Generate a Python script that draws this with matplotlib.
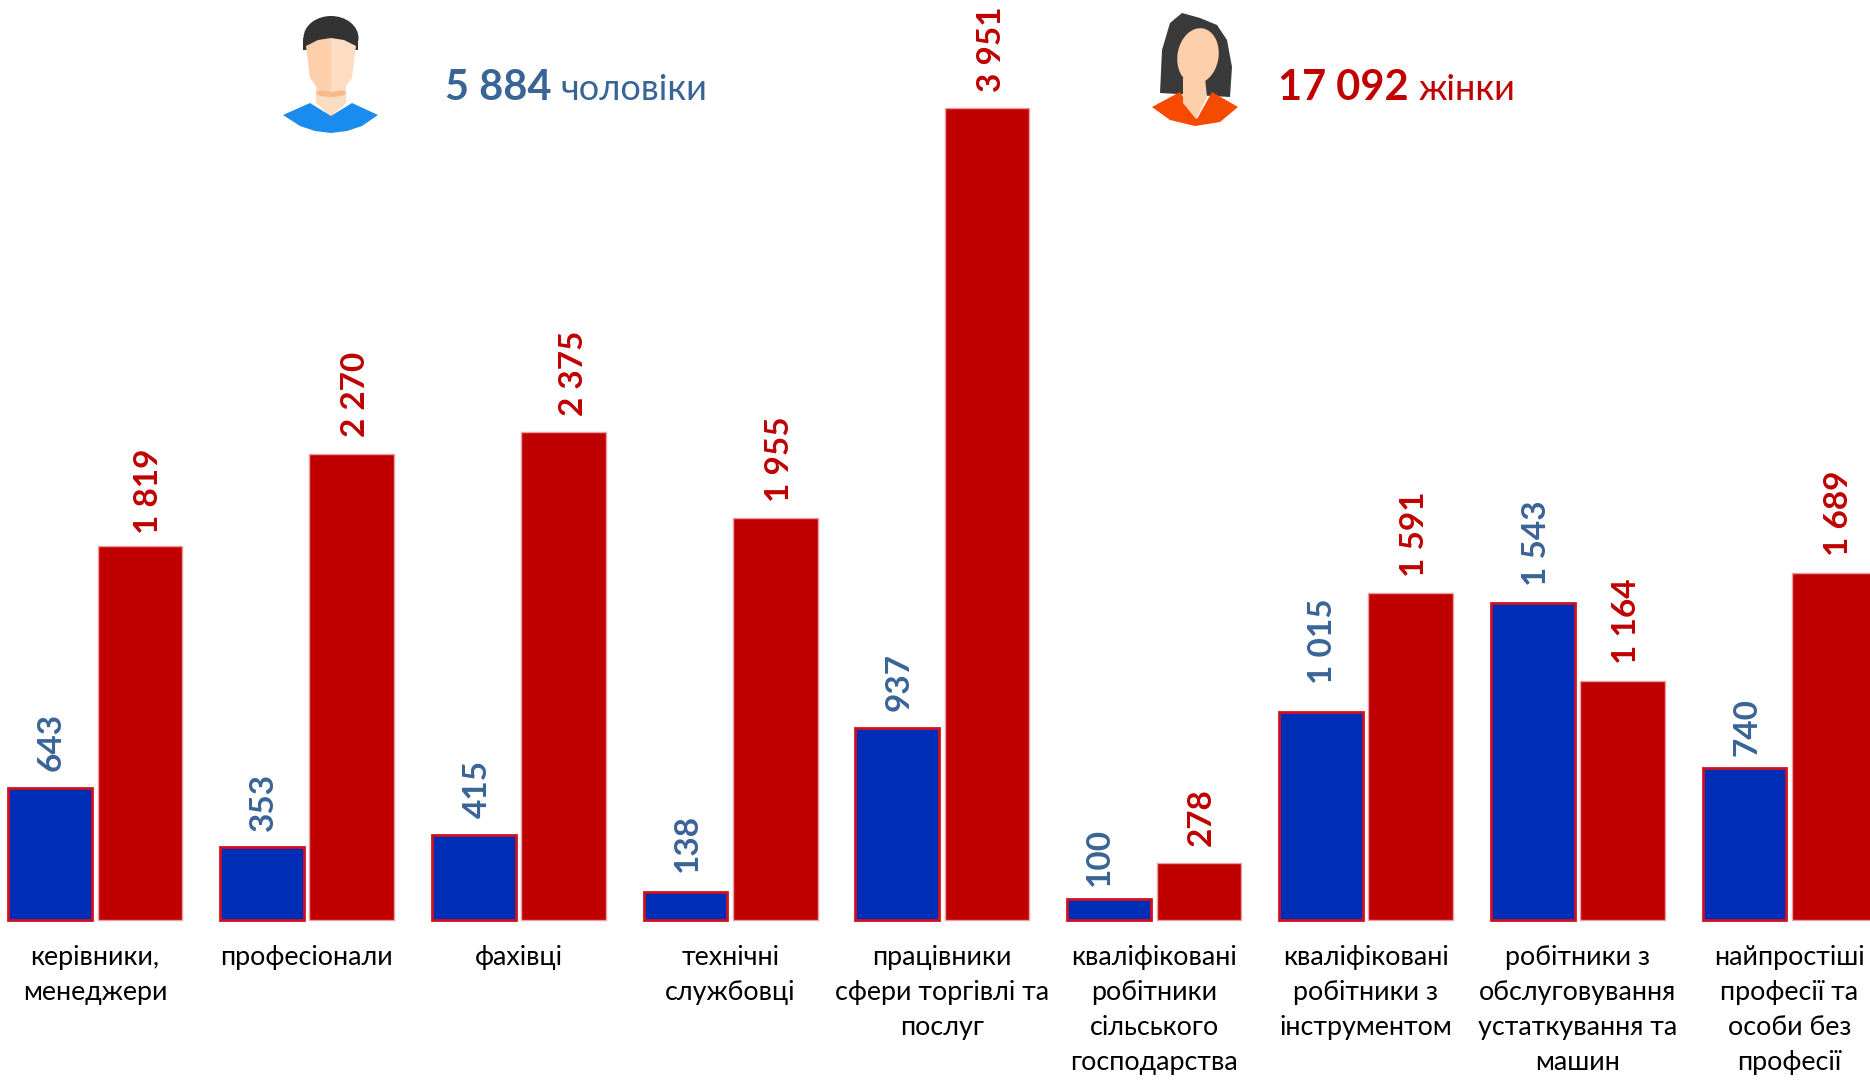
import matplotlib
matplotlib.use("Agg")
import matplotlib.pyplot as plt
from matplotlib.patches import Ellipse, Polygon

plt.rcParams['font.family'] = ['Lato', 'Open Sans', 'DejaVu Sans']

categories = [
    "керівники,\nменеджери",
    "професіонали",
    "фахівці",
    "технічні\nслужбовці",
    "працівники\nсфери торгівлі та\nпослуг",
    "кваліфіковані\nробітники\nсільського\nгосподарства",
    "кваліфіковані\nробітники з\nінструментом",
    "робітники з\nобслуговування\nустаткування та\nмашин",
    "найпростіші\nпрофесії та\nособи без\nпрофесії",
]
men = [643, 353, 415, 138, 937, 100, 1015, 1543, 740]
women = [1819, 2270, 2375, 1955, 3951, 278, 1591, 1164, 1689]
men_total = "5 884"
women_total = "17 092"

BLUE = "#002db5"
RED = "#c00000"
TEXT_BLUE = "#396496"
SKIN = "#fdd0ab"
SKIN2 = "#fddcc4"

# hand placed labels in the original, offsets in points
men_dx = [0, 0, 2, 0, 0, -8, 0, 2, 1]
men_dy = [0, 0, 0, 2, 0, -2, 8, 0, -3]
women_dx = [3, 0, 4, 0, 0, -1, 0, 0, 0]
women_dy = [-3, 0, 0, 0, 0, 0, 0, 0, 0]


def fmt(v):
    return f"{v:,}".replace(",", " ")


fig = plt.figure(figsize=(18.7, 10.8), dpi=100)
ax = fig.add_axes([0, 0, 1, 1])

xs = list(range(len(categories)))
w = 0.4
off = 0.212
ax.bar([x - off for x in xs], men, width=w - 0.005, color=BLUE, edgecolor="#d01020", linewidth=2)
ax.bar([x + off for x in xs], women, width=w, color=RED, edgecolor="#e8a0a0", linewidth=1)

for i, x in enumerate(xs):
    ax.annotate(fmt(men[i]), (x - off, men[i]), xytext=(1 + men_dx[i], 12 + men_dy[i]),
                textcoords="offset points", rotation=90, ha="center", va="bottom",
                color=TEXT_BLUE, fontsize=24, fontweight="bold")
    ax.annotate(fmt(women[i]), (x + off, women[i]), xytext=(3 + women_dx[i], 12 + women_dy[i]),
                textcoords="offset points", rotation=90, ha="center", va="bottom",
                color=RED, fontsize=24, fontweight="bold")

# 211.8 px per group, group 0 at px 95, baseline at y=920
ax.set_xlim(-95 / 211.8, (1870 - 95) / 211.8)
ax.set_ylim(-160 / 0.2054, 920 / 0.2054)
ax.spines["bottom"].set_position(("data", 0))
ax.set_xticks(xs)
ax.set_xticklabels(categories, fontsize=19.4, color="black", linespacing=1.5)
ax.tick_params(axis="x", length=0, pad=18)
ax.set_yticks([])
for s in ax.spines.values():
    s.set_visible(False)

# pictures and totals on top, in pixel coordinates
top = fig.add_axes([0, 0, 1, 1])
top.set_xlim(0, 1870)
top.set_ylim(1080, 0)
top.axis("off")
top.patch.set_alpha(0)

# man
top.add_patch(Polygon([(316, 85), (346, 85), (346, 103), (331, 117), (316, 103)], color=SKIN2, lw=0))
top.add_patch(Ellipse((331, 93), 30, 8, color="#f9b98c", lw=0))
top.add_patch(Polygon([(283, 115), (300, 126), (315, 131), (331, 133), (347, 131), (362, 126), (378, 115),
                       (352, 103), (331, 116), (310, 103)], color="#1a8cf0", lw=0))
top.add_patch(Ellipse((331, 38), 55, 44, color="#333333", lw=0))
top.add_patch(Polygon([(303, 38), (358, 38), (358, 50), (303, 50)], color="#333333", lw=0))
top.add_patch(Polygon([(306, 46), (318, 40), (331, 38), (331, 92), (319, 90), (310, 78)], color=SKIN, lw=0))
top.add_patch(Polygon([(356, 46), (344, 40), (331, 38), (331, 92), (343, 90), (352, 78)], color=SKIN2, lw=0))

# woman
top.add_patch(Polygon([(1160, 93), (1162, 50), (1170, 23), (1182, 13), (1200, 18), (1217, 25),
                       (1227, 40), (1232, 67), (1230, 97)], color="#3a3a3a", lw=0))
top.add_patch(Polygon([(1152, 107), (1180, 92), (1197, 119), (1212, 92), (1238, 107), (1220, 122),
                       (1195, 126), (1170, 120)], color="#f54a00", lw=0))
top.add_patch(Polygon([(1183, 78), (1205, 78), (1207, 97), (1196, 119), (1183, 103)], color=SKIN, lw=0))
top.add_patch(Ellipse((1198, 56), 41, 56, angle=10, color=SKIN, lw=0))

top.text(445, 100, men_total, color=TEXT_BLUE, fontsize=30, fontweight="bold", va="baseline")
top.text(561, 100, "чоловіки", color=TEXT_BLUE, fontsize=26, va="baseline")
top.text(1278, 100, women_total, color=RED, fontsize=30, fontweight="bold", va="baseline")
top.text(1419, 100, "жінки", color=RED, fontsize=26, va="baseline")

fig.savefig("out.png", dpi=100)
